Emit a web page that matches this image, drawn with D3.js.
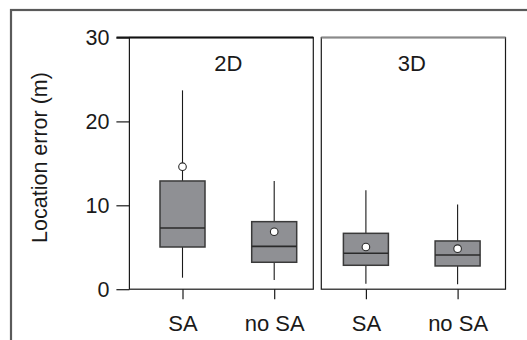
<!DOCTYPE html>
<html>
<head>
<meta charset="utf-8">
<script src="https://cdn.jsdelivr.net/npm/d3@7"></script>
<style>
  html, body { margin: 0; padding: 0; background: #fff; }
  svg { display: block; font-family: "Liberation Sans", Arial, sans-serif; }
</style>
</head>
<body>
<svg id="chart" width="527" height="340"></svg>
<script>
// Location error box plots, split by 2D / 3D and SA / no SA
const panels = ["2D", "3D"];
const groups = ["2D SA", "2D no SA", "3D SA", "3D no SA"];
const groupPanel = ["2D", "2D", "3D", "3D"];
const groupLabels = ["SA", "no SA", "SA", "no SA"];
const whiskerLow = [1.37, 1.10, 0.66, 0.58];
const q1 = [5.03, 3.21, 2.85, 2.77];
const median = [7.30, 5.11, 4.28, 4.08];
const q3 = [12.9, 8.05, 6.66, 5.75];
const whiskerHigh = [23.7, 12.9, 11.8, 10.1];
const mean = [14.6, 6.85, 5.03, 4.83];
const yTicks = [0, 10, 20, 30];
const yTitle = "Location error (m)";

const svg = d3.select("#chart");

// outer frame
svg.append("rect")
  .attr("x", 11).attr("y", 10)
  .attr("width", 600).attr("height", 400)
  .attr("fill", "none").attr("stroke", "#5a5a5a").attr("stroke-width", 2.2);

const y = d3.scaleLinear().domain([0, 30]).range([289.2, 37.5]);
const x = d3.scalePoint().domain(groups).range([182.5, 457.6]);

// panel frames
const panelBox = {
  "2D": [129.4, 313.3],
  "3D": [321.3, 505.5]
};
const g = svg.append("g");
panels.forEach((p, i) => {
  const [x0, x1] = panelBox[p];
  g.append("rect")
    .attr("x", x0).attr("y", y(30))
    .attr("width", x1 - x0).attr("height", y(0) - y(30))
    .attr("fill", "none").attr("stroke", "#1a1a1a").attr("stroke-width", 1.2);
  g.append("line")
    .attr("x1", i === 0 ? 116.5 : x0).attr("x2", x1)
    .attr("y1", y(30)).attr("y2", y(30))
    .attr("stroke", i === 0 ? "#111" : "#8a8a8a").attr("stroke-width", 2);
  const members = groups.filter((d, j) => groupPanel[j] === p);
  const cx = (x(members[0]) + x(members[members.length - 1])) / 2;
  g.append("text")
    .attr("x", cx).attr("y", 70.5)
    .attr("text-anchor", "middle")
    .attr("font-size", 22).attr("fill", "#1a1a1a")
    .text(p);
});

// y axis
const yAxis = d3.axisLeft(y).tickValues(yTicks).tickSize(13).tickPadding(7);
const ya = svg.append("g").attr("transform", "translate(129.4,0)").call(yAxis);
ya.select(".domain").remove();
ya.selectAll(".tick line").attr("stroke", "#1a1a1a").attr("stroke-width", 1.2);
ya.selectAll(".tick text")
  .attr("font-size", 21.5).attr("fill", "#1a1a1a")
  .attr("font-family", "Liberation Sans, Arial, sans-serif");

// x axis ticks and labels
const xAxis = d3.axisBottom(x).tickSize(10).tickPadding(16)
  .tickFormat(d => groupLabels[groups.indexOf(d)]);
const xa = svg.append("g").attr("transform", `translate(0,${y(0)})`).call(xAxis);
xa.select(".domain").remove();
xa.selectAll(".tick line").attr("stroke", "#1a1a1a").attr("stroke-width", 1.2);
xa.selectAll(".tick text")
  .attr("font-size", 22).attr("fill", "#1a1a1a")
  .attr("font-family", "Liberation Sans, Arial, sans-serif");

// y title
svg.append("text")
  .attr("transform", "translate(46.5,157.5) rotate(-90)")
  .attr("text-anchor", "middle")
  .attr("font-size", 21.5).attr("fill", "#1a1a1a")
  .text(yTitle);

// boxes
const boxW = 45;
const boxes = svg.append("g");
groups.forEach((k, i) => {
  const cx = x(k);
  boxes.append("line")
    .attr("x1", cx).attr("x2", cx)
    .attr("y1", y(whiskerLow[i])).attr("y2", y(whiskerHigh[i]))
    .attr("stroke", "#1a1a1a").attr("stroke-width", 1.1);
  boxes.append("rect")
    .attr("x", cx - boxW / 2).attr("y", y(q3[i]))
    .attr("width", boxW).attr("height", y(q1[i]) - y(q3[i]))
    .attr("fill", "#8f9094").attr("stroke", "#3a3a3a").attr("stroke-width", 1.5);
  boxes.append("line")
    .attr("x1", cx - boxW / 2).attr("x2", cx + boxW / 2)
    .attr("y1", y(median[i])).attr("y2", y(median[i]))
    .attr("stroke", "#2a2a2a").attr("stroke-width", 1.6);
  boxes.append("circle")
    .attr("cx", cx).attr("cy", y(mean[i])).attr("r", 3.8)
    .attr("fill", "#fff").attr("stroke", "#2a2a2a").attr("stroke-width", 1.1);
});
</script>
</body>
</html>
